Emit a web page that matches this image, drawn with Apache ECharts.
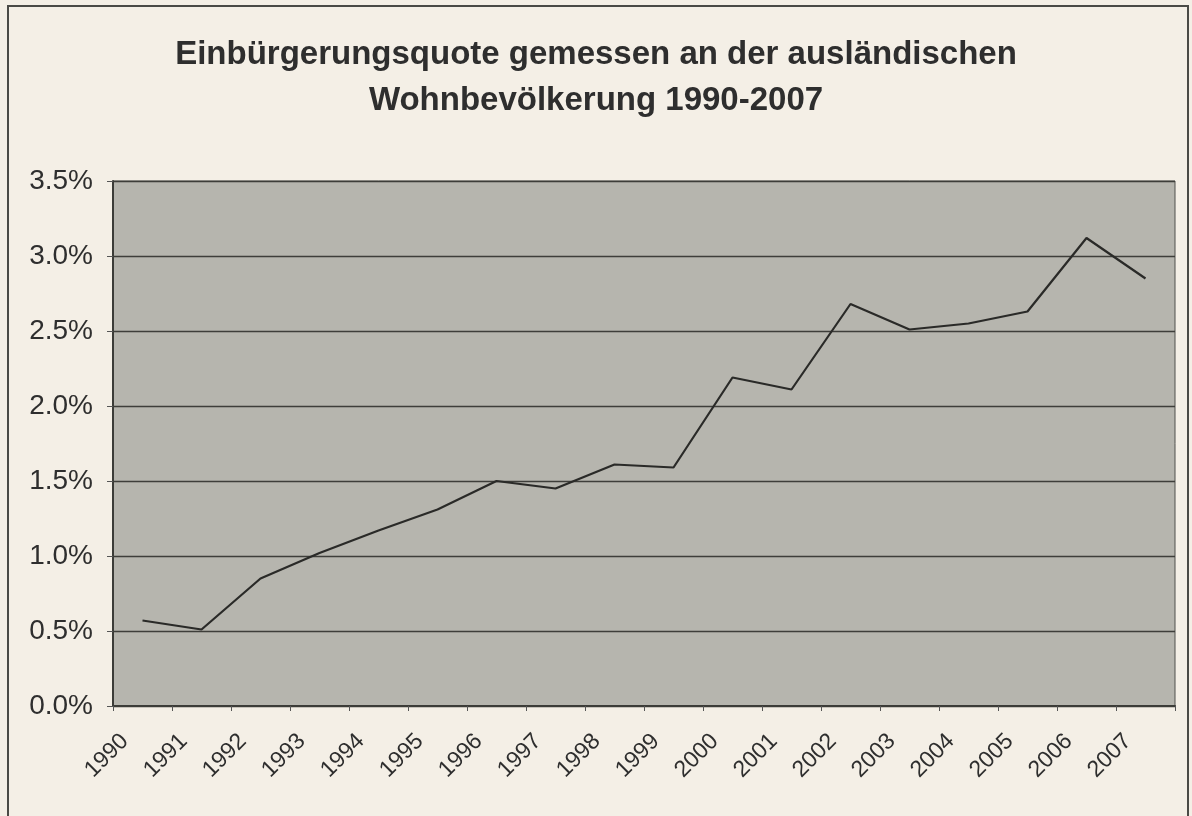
<!DOCTYPE html>
<html>
<head>
<meta charset="utf-8">
<script src="https://cdn.jsdelivr.net/npm/echarts@6/dist/echarts.min.js"></script>
<style>
html,body{margin:0;padding:0;background:#f4efe6;}
#frame{position:absolute;left:7px;top:5px;width:1182px;height:820px;border:2px solid #4a4a46;box-sizing:border-box;}
#chart{position:absolute;left:0;top:0;width:1192px;height:816px;}
</style>
</head>
<body>
<div id="frame"></div>
<div id="chart"></div>
<script>
const titleText = "Einbürgerungsquote gemessen an der ausländischen\nWohnbevölkerung 1990-2007";
const years = ["1990","1991","1992","1993","1994","1995","1996","1997","1998","1999","2000","2001","2002","2003","2004","2005","2006","2007"];
const quota = [0.57,0.51,0.85,1.02,1.17,1.31,1.50,1.45,1.61,1.59,2.19,2.11,2.68,2.51,2.55,2.63,3.12,2.85];
const yTicks = { min: 0, max: 3.5, interval: 0.5 };

const chart = echarts.init(document.getElementById('chart'));
chart.setOption({
  backgroundColor: 'transparent',
  animation: false,
  title: {
    text: titleText,
    left: 'center',
    top: 27,
    textStyle: { fontFamily: 'Liberation Sans, Arial, sans-serif', fontSize: 33, fontWeight: 'bold', color: '#2e2e2e', lineHeight: 46 }
  },
  grid: {
    left: 113, right: 17, top: 181, bottom: 110,
    show: true, backgroundColor: '#b6b5ae', borderColor: '#50504c', borderWidth: 1
  },
  xAxis: {
    type: 'category',
    data: years,
    boundaryGap: true,
    axisLine: { lineStyle: { color: '#3c3c38', width: 2 } },
    axisTick: { show: true, length: 5, lineStyle: { color: '#555' } },
    axisLabel: { rotate: 45, fontFamily: 'Liberation Sans, Arial, sans-serif', fontSize: 23, color: '#2e2e2e', margin: 14, padding: [0, 25, 0, 0] }
  },
  yAxis: {
    type: 'value',
    min: yTicks.min, max: yTicks.max, interval: yTicks.interval,
    axisLine: { show: true, lineStyle: { color: '#3c3c38', width: 2 } },
    axisTick: { show: true, length: 6, lineStyle: { color: '#555' } },
    splitLine: { lineStyle: { color: '#3e3e3a', width: 1.3 } },
    axisLabel: { formatter: v => v.toFixed(1) + '%', fontFamily: 'Liberation Sans, Arial, sans-serif', fontSize: 28, color: '#2e2e2e', margin: 20 }
  },
  series: [{
    type: 'line',
    data: quota,
    symbol: 'none',
    lineStyle: { color: '#2a2a28', width: 2.2 }
  }]
});
</script>
</body>
</html>
